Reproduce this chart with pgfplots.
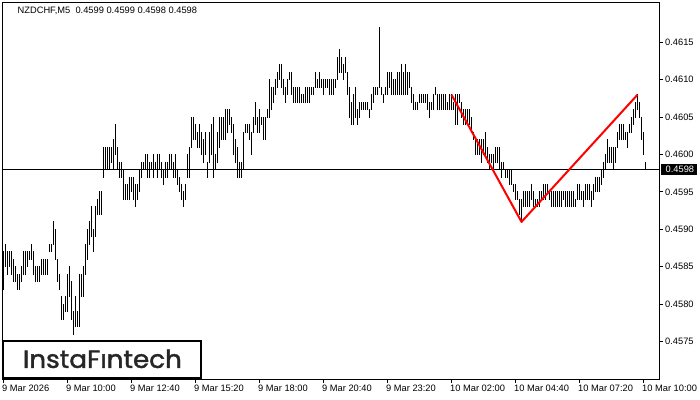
\documentclass[border=0pt]{standalone}
\usepackage{pgfplots}
\usepackage{pgfplotstable}
\usepackage{graphicx}
\usepackage{fontspec}
\pgfplotsset{compat=1.18}
\setmainfont{Liberation Sans}
\newfontfamily\logofont{Poppins}[FakeBold=1.6]

\pgfplotstableread{
i h l
0 0.4587 0.4582
1 0.4588 0.4585
2 0.4587 0.4584
3 0.4587 0.4585
4 0.4587 0.4584
5 0.4586 0.4583
6 0.4585 0.4583
7 0.4584 0.4582
8 0.4584 0.4582
9 0.4585 0.4583
10 0.4587 0.4584
11 0.4587 0.4584
12 0.4587 0.4585
13 0.4587 0.4586
14 0.4588 0.4586
15 0.4587 0.4584
16 0.4585 0.4583
17 0.4585 0.4583
18 0.4585 0.4583
19 0.4586 0.4584
20 0.4586 0.4584
21 0.4586 0.4584
22 0.4586 0.4584
23 0.4588 0.4587
24 0.4588 0.4587
25 0.4591 0.4588
26 0.4590 0.4586
27 0.4586 0.4583
28 0.4584 0.4582
29 0.4581 0.4578
30 0.4580 0.4578
31 0.4581 0.4579
32 0.4584 0.4579
33 0.4585 0.4581
34 0.4583 0.4578
35 0.4579 0.4576
36 0.4581 0.4577
37 0.4579 0.4577
38 0.4584 0.4577
39 0.4584 0.4581
40 0.4585 0.4581
41 0.4588 0.4584
42 0.4590 0.4586
43 0.4591 0.4588
44 0.4593 0.4589
45 0.4590 0.4587
46 0.4593 0.4589
47 0.4594 0.4592
48 0.4595 0.4592
49 0.4595 0.4592
50 0.4601 0.4597
51 0.4601 0.4598
52 0.4601 0.4598
53 0.4601 0.4598
54 0.4601 0.4599
55 0.4602 0.4598
56 0.4604 0.4600
57 0.4601 0.4598
58 0.4599 0.4597
59 0.4599 0.4597
60 0.4598 0.4594
61 0.4596 0.4594
62 0.4596 0.4594
63 0.4597 0.4594
64 0.4597 0.4595
65 0.4597 0.4594
66 0.4596 0.4593
67 0.4596 0.4594
68 0.4598 0.4595
69 0.4599 0.4597
70 0.4599 0.4598
71 0.4600 0.4598
72 0.4600 0.4597
73 0.4599 0.4597
74 0.4599 0.4598
75 0.4600 0.4597
76 0.4599 0.4598
77 0.4600 0.4597
78 0.4600 0.4598
79 0.4599 0.4597
80 0.4598 0.4596
81 0.4599 0.4597
82 0.4599 0.4597
83 0.4600 0.4598
84 0.4600 0.4598
85 0.4599 0.4597
86 0.4600 0.4597
87 0.4598 0.4596
88 0.4597 0.4595
89 0.4596 0.4594
90 0.4595 0.4593
91 0.4596 0.4594
92 0.4600 0.4597
93 0.4601 0.4597
94 0.4605 0.4601
95 0.4605 0.4602
96 0.4604 0.4602
97 0.4603 0.4601
98 0.4604 0.4601
99 0.4603 0.4600
100 0.4602 0.4599
101 0.4603 0.4600
102 0.4599 0.4597
103 0.4603 0.4599
104 0.4604 0.4600
105 0.4605 0.4597
106 0.4600 0.4598
107 0.4603 0.4599
108 0.4605 0.4601
109 0.4605 0.4602
110 0.4605 0.4602
111 0.4606 0.4602
112 0.4606 0.4603
113 0.4606 0.4604
114 0.4605 0.4603
115 0.4604 0.4600
116 0.4602 0.4599
117 0.4601 0.4597
118 0.4599 0.4597
119 0.4599 0.4597
120 0.4603 0.4598
121 0.4604 0.4603
122 0.4604 0.4603
123 0.4604 0.4602
124 0.4603 0.4600
125 0.4605 0.4603
126 0.4607 0.4604
127 0.4605 0.4603
128 0.4606 0.4603
129 0.4605 0.4604
130 0.4605 0.4602
131 0.4605 0.4602
132 0.4606 0.4605
133 0.4610 0.4605
134 0.4609 0.4606
135 0.4609 0.4607
136 0.4610 0.4608
137 0.4611 0.4609
138 0.4612 0.4610
139 0.4612 0.4609
140 0.4610 0.4608
141 0.4609 0.4607
142 0.4610 0.4608
143 0.4611 0.4610
144 0.4611 0.4608
145 0.4609 0.4607
146 0.4609 0.4607
147 0.4609 0.4607
148 0.4609 0.4607
149 0.4608 0.4607
150 0.4608 0.4607
151 0.4609 0.4607
152 0.4609 0.4607
153 0.4609 0.4607
154 0.4609 0.4608
155 0.4609 0.4608
156 0.4611 0.4609
157 0.4610 0.4609
158 0.4611 0.4609
159 0.4610 0.4609
160 0.4610 0.4608
161 0.4610 0.4609
162 0.4610 0.4609
163 0.4610 0.4608
164 0.4610 0.4608
165 0.4610 0.4608
166 0.4610 0.4609
167 0.4613 0.4610
168 0.4614 0.4611
169 0.4613 0.4611
170 0.4612 0.4610
171 0.4613 0.4611
172 0.4611 0.4608
173 0.4609 0.4605
174 0.4607 0.4604
175 0.4608 0.4604
176 0.4609 0.4605
177 0.4606 0.4604
178 0.4607 0.4605
179 0.4607 0.4606
180 0.4607 0.4606
181 0.4607 0.4606
182 0.4607 0.4606
183 0.4606 0.4605
184 0.4608 0.4606
185 0.4609 0.4607
186 0.4609 0.4608
187 0.4609 0.4608
188 0.4617 0.4609
189 0.4609 0.4608
190 0.4608 0.4607
191 0.4609 0.4608
192 0.4611 0.4608
193 0.4611 0.4609
194 0.4611 0.4608
195 0.4610 0.4608
196 0.4610 0.4608
197 0.4611 0.4608
198 0.4611 0.4608
199 0.4612 0.4608
200 0.4611 0.4608
201 0.4612 0.4608
202 0.4611 0.4608
203 0.4611 0.4609
204 0.4609 0.4607
205 0.4608 0.4606
206 0.4607 0.4606
207 0.4607 0.4606
208 0.4608 0.4607
209 0.4608 0.4607
210 0.4608 0.4607
211 0.4608 0.4607
212 0.4608 0.4606
213 0.4607 0.4605
214 0.4607 0.4606
215 0.4608 0.4606
216 0.4609 0.4608
217 0.4608 0.4606
218 0.4608 0.4606
219 0.4608 0.4606
220 0.4608 0.4606
221 0.4608 0.4606
222 0.4607 0.4606
223 0.4608 0.4606
224 0.4608 0.4606
225 0.4607 0.4606
226 0.4608 0.4604
227 0.4608 0.4604
228 0.4608 0.4607
229 0.4607 0.4605
230 0.4606 0.4604
231 0.4606 0.4604
232 0.4606 0.4604
233 0.4606 0.4604
234 0.4605 0.4603
235 0.4603 0.4602
236 0.4602 0.4600
237 0.4602 0.4600
238 0.4602 0.4600
239 0.4602 0.4599
240 0.4602 0.4600
241 0.4603 0.4600
242 0.4601 0.4599
243 0.4600 0.4598
244 0.4600 0.4599
245 0.4600 0.4598
246 0.4601 0.4599
247 0.4601 0.4599
248 0.4601 0.4598
249 0.4599 0.4597
250 0.4599 0.4598
251 0.4598 0.4597
252 0.4598 0.4597
253 0.4598 0.4596
254 0.4598 0.4596
255 0.4596 0.4595
256 0.4596 0.4594
257 0.4595 0.4594
258 0.4594 0.4592
259 0.4594 0.4591
260 0.4595 0.4593
261 0.4595 0.4593
262 0.4595 0.4593
263 0.4595 0.4593
264 0.4596 0.4594
265 0.4595 0.4593
266 0.4594 0.4593
267 0.4594 0.4593
268 0.4595 0.4593
269 0.4595 0.4594
270 0.4596 0.4594
271 0.4596 0.4594
272 0.4596 0.4595
273 0.4595 0.4594
274 0.4595 0.4593
275 0.4595 0.4593
276 0.4595 0.4593
277 0.4595 0.4593
278 0.4595 0.4593
279 0.4595 0.4593
280 0.4595 0.4594
281 0.4595 0.4593
282 0.4595 0.4593
283 0.4595 0.4593
284 0.4595 0.4593
285 0.4595 0.4593
286 0.4594 0.4593
287 0.4596 0.4594
288 0.4596 0.4594
289 0.4595 0.4594
290 0.4595 0.4593
291 0.4596 0.4594
292 0.4596 0.4594
293 0.4596 0.4594
294 0.4595 0.4593
295 0.4596 0.4594
296 0.4597 0.4595
297 0.4597 0.4595
298 0.4597 0.4595
299 0.4598 0.4596
300 0.4599 0.4597
301 0.4600 0.4598
302 0.4602 0.4599
303 0.4601 0.4599
304 0.4601 0.4599
305 0.4601 0.4598
306 0.4601 0.4599
307 0.4603 0.4601
308 0.4604 0.4602
309 0.4604 0.4602
310 0.4604 0.4602
311 0.4603 0.4602
312 0.4603 0.4601
313 0.4604 0.4603
314 0.4605 0.4603
315 0.4606 0.4604
316 0.4607 0.4605
317 0.4608 0.4606
318 0.4607 0.4605
319 0.4605 0.4602
320 0.4603 0.4600
321 0.4599 0.4598
}\bardata

\begin{document}
\begin{tikzpicture}
\useasboundingbox (0,0) rectangle (700bp,400bp);
\fill[white] (0,0) rectangle (700bp,400bp);
\begin{axis}[
  at={(2.5bp,20.5bp)}, anchor=south west,
  scale only axis, width=657bp, height=377bp,
  xmin=-0.5, xmax=328,
  ymin=0.456993, ymax=0.462033,
  axis line style={line width=1bp, black},
  tick style={line width=1bp, black},
  tick align=outside, major tick length=3.5bp,
  xtick={0,32,64,96,128,160,192,224,256,288,320},
  xticklabels={9 Mar 2026,9 Mar 10:00,9 Mar 12:40,9 Mar 15:20,9 Mar 18:00,9 Mar 20:40,9 Mar 23:20,10 Mar 02:00,10 Mar 04:40,10 Mar 07:20,10 Mar 10:00},
  xtick pos=lower,
  ytick={0.4575,0.4580,0.4585,0.4590,0.4595,0.4600,0.4605,0.4610,0.4615},
  yticklabels={0.4575,0.4580,0.4585,0.4590,0.4595,0.4600,0.4605,0.4610,0.4615},
  ytick pos=right, yticklabel pos=right,
  every tick label/.append style={font=\fontsize{9.3bp}{11bp}\selectfont, inner sep=0pt, text=black},
  xticklabel style={anchor=north west, xshift=-1.5bp, yshift=-2bp},
  yticklabel style={anchor=west, xshift=2bp},
  clip=true,
]
\addplot[draw=none, mark=none, forget plot,
  error bars/.cd, y dir=plus, y explicit, error mark=none,
  error bar style={line width=1bp, black, line cap=rect}]
  table[x=i, y=l, y error plus expr=\thisrow{h}-\thisrow{l}] {\bardata};
\addplot[black, line width=1bp, mark=none, forget plot] coordinates {(-0.5,0.4598) (328,0.4598)};
\addplot[red, line width=2bp, mark=none, forget plot, line join=round] coordinates {(224,0.4608) (259,0.4591) (317,0.4608)};
\end{axis}
% title
\node[anchor=base west, inner sep=0pt, font=\fontsize{9.3bp}{11bp}\selectfont] at (17.5bp,386bp) {NZDCHF,M5\ \ 0.4599 0.4599 0.4598 0.4598};
% current price box
\fill[black] (660.5bp,236bp) rectangle (697bp,225bp);
\node[anchor=west, inner sep=0pt, text=white, font=\fontsize{9.3bp}{11bp}\selectfont] at (665.5bp,230.5bp) {0.4598};
% logo
\draw[line width=2bp, fill=white] (3bp,59bp) rectangle (200.7bp,22bp);
\node[anchor=south west, inner sep=0pt, text=black!85] at (22.7bp,31.7bp) {\resizebox{159bp}{18.3bp}{\logofont InstaFıntech}};
\end{tikzpicture}
\end{document}
